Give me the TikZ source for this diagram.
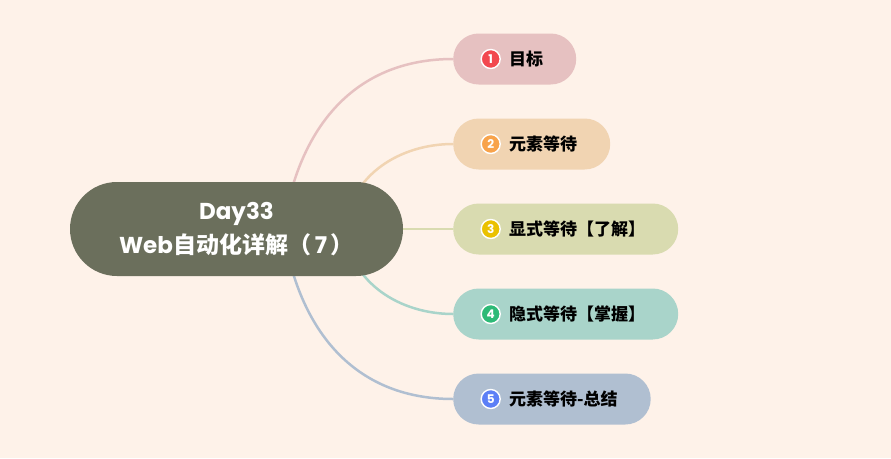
\documentclass[tikz,border=0pt]{standalone}
\usepackage{fontspec}
\setmainfont{Poppins}
\newfontfamily\cjk{Noto Sans CJK SC}
\usetikzlibrary{positioning,backgrounds}
\definecolor{paper}{HTML}{FEF2E9}
\definecolor{rootgray}{HTML}{6B6F5C}
\definecolor{pinkA}{HTML}{E6C1C1}
\definecolor{tanB}{HTML}{F1D4B2}
\definecolor{oliveC}{HTML}{D9DBB0}
\definecolor{mintD}{HTML}{A9D4CA}
\definecolor{slateE}{HTML}{B0BFD1}
\definecolor{redA}{HTML}{F2484F}
\definecolor{orangeB}{HTML}{F8A34B}
\definecolor{goldC}{HTML}{EAC100}
\definecolor{greenD}{HTML}{2DBA77}
\definecolor{blueE}{HTML}{5C7FF6}

\begin{document}
\begin{tikzpicture}[x=1pt,y=-1pt]
                \tikzstyle{every node}+=[inner sep=0pt]
                \tikzstyle{topic}=[fill=rootgray, text=white, minimum width=333pt, minimum height=94pt, rounded corners=47pt, align=center, font=\bfseries\fontsize{23}{34}\selectfont]
                \tikzstyle{sub}=[minimum height=51pt, rounded corners=25.5pt, inner xsep=33pt, anchor=west, font=\cjk\bfseries\fontsize{17}{17}\selectfont]
                \tikzstyle{badge}=[circle, draw=white, line width=1.4pt, minimum size=19pt, text=white, font=\bfseries\fontsize{12}{12}\selectfont]
                \tikzstyle{link}=[line width=2.5pt]
                \useasboundingbox (0,0) rectangle (891,458);
                \node [topic] (root) at (236.5,229) {Day33\\Web{\cjk 自动化详解（}\,7\,{\cjk ）}};
                \node [sub, fill=pinkA] (goal) at (453,59) {\hspace*{23pt}目标};
                \node [sub, fill=tanB] (wait) at (453,144) {\hspace*{23pt}元素等待};
                \node [sub, fill=oliveC] (explicit) at (453,229) {\hspace*{23pt}显式等待【了解】};
                \node [sub, fill=mintD] (implicit) at (453,314) {\hspace*{23pt}隐式等待【掌握】};
                \node [sub, fill=slateE] (summary) at (453,399) {\hspace*{23pt}元素等待-总结};
                \node [badge, fill=redA, right=27.5pt of goal.west] (n1) {1};
                \node [badge, fill=orangeB, right=27.5pt of wait.west] (n2) {2};
                \node [badge, fill=goldC, right=27.5pt of explicit.west] (n3) {3};
                \node [badge, fill=greenD, right=27.5pt of implicit.west] (n4) {4};
                \node [badge, fill=blueE, right=27.5pt of summary.west] (n5) {5};
                \begin{scope}[on background layer]
                \fill [paper] (0,0) rectangle (891,458);
                \coordinate (hubA) at ([xshift=46.5pt]root.center);
                \coordinate (hubB) at ([xshift=108.5pt]root.center);
                \draw [link, pinkA] (hubA) .. controls +(17,-109) and +(-93,0) .. (goal.west);
                \draw [link, tanB] (hubB) .. controls +(5,-54) and +(-53,0) .. (wait.west);
                \draw [link, oliveC] (root.east) -- (explicit.west);
                \draw [link, mintD] (hubB) .. controls +(5,54) and +(-53,0) .. (implicit.west);
                \draw [link, slateE] (hubA) .. controls +(17,109) and +(-93,0) .. (summary.west);
                \end{scope}
              \end{tikzpicture}
\end{document}
